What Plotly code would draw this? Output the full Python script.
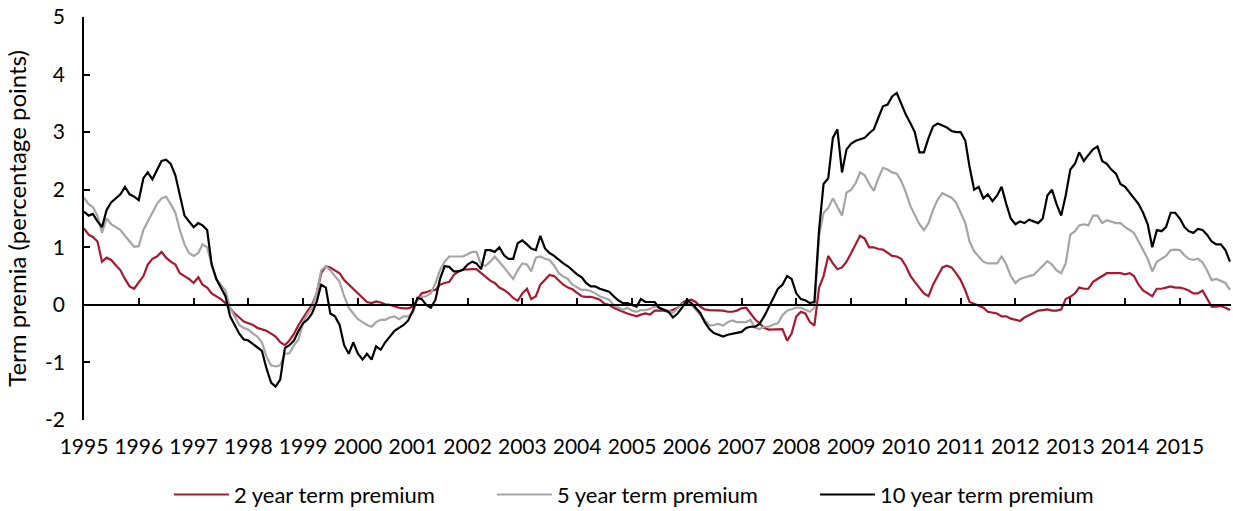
import pandas as pd
import plotly.graph_objects as go

dates = pd.date_range("1995-01-01", periods=252, freq="MS")

two_year = [
    1.33, 1.22, 1.18, 1.1, 0.75, 0.82, 0.78, 0.68, 0.6, 0.45, 0.32, 0.28,
    0.38, 0.5, 0.7, 0.8, 0.84, 0.92, 0.82, 0.75, 0.7, 0.55, 0.5, 0.45,
    0.38, 0.48, 0.35, 0.3, 0.2, 0.15, 0.1, 0.03, -0.06, -0.15, -0.22, -0.29,
    -0.32, -0.35, -0.4, -0.43, -0.45, -0.5, -0.55, -0.65, -0.7, -0.62, -0.5, -0.35,
    -0.22, -0.1, 0.0, 0.2, 0.55, 0.67, 0.65, 0.6, 0.55, 0.43, 0.35, 0.28,
    0.2, 0.12, 0.05, 0.03, 0.06, 0.04, 0.01, 0.0, -0.03, -0.05, -0.06, -0.06,
    -0.03, 0.1, 0.2, 0.22, 0.25, 0.26, 0.35, 0.38, 0.4, 0.52, 0.58, 0.61,
    0.62, 0.62, 0.62, 0.55, 0.48, 0.42, 0.38, 0.3, 0.26, 0.2, 0.12, 0.07,
    0.2, 0.28, 0.1, 0.15, 0.35, 0.43, 0.52, 0.5, 0.42, 0.35, 0.3, 0.27,
    0.21, 0.15, 0.14, 0.14, 0.12, 0.09, 0.02, 0.0, -0.05, -0.09, -0.12, -0.15,
    -0.17, -0.2, -0.17, -0.15, -0.17, -0.1, -0.1, -0.1, -0.12, -0.08, -0.05, 0.03,
    0.08, 0.09, 0.05, -0.03, -0.08, -0.09, -0.09, -0.09, -0.1, -0.12, -0.12, -0.1,
    -0.06, -0.05, -0.15, -0.25, -0.32, -0.4, -0.43, -0.43, -0.43, -0.42, -0.62, -0.5,
    -0.2, -0.12, -0.15, -0.3, -0.36, 0.3, 0.5, 0.85, 0.72, 0.62, 0.65, 0.75,
    0.9, 1.05, 1.2, 1.15, 1.0, 1.0, 0.97, 0.96, 0.9, 0.85, 0.84, 0.8,
    0.67, 0.5, 0.4, 0.3, 0.2, 0.15, 0.35, 0.5, 0.65, 0.68, 0.65, 0.55,
    0.43, 0.25, 0.05, 0.02, -0.02, -0.05, -0.12, -0.14, -0.15, -0.2, -0.2, -0.24,
    -0.26, -0.28, -0.22, -0.18, -0.14, -0.1, -0.09, -0.08, -0.1, -0.1, -0.08, 0.1,
    0.14, 0.2, 0.3, 0.28, 0.28, 0.4, 0.45, 0.5, 0.55, 0.55, 0.55, 0.55,
    0.53, 0.55, 0.5, 0.35, 0.25, 0.2, 0.15, 0.28, 0.28, 0.3, 0.32, 0.3,
    0.3, 0.28, 0.25, 0.2, 0.2, 0.25, 0.1, -0.03, -0.03, -0.02, -0.05, -0.09,
]

five_year = [
    1.86, 1.75, 1.7, 1.55, 1.25, 1.5, 1.4, 1.35, 1.3, 1.2, 1.1, 1.01,
    1.02, 1.3, 1.45, 1.6, 1.75, 1.85, 1.88, 1.75, 1.6, 1.3, 1.05, 0.9,
    0.85, 0.9, 1.05, 1.0, 0.7, 0.45, 0.35, 0.25, -0.05, -0.2, -0.35, -0.4,
    -0.43, -0.5, -0.55, -0.65, -0.9, -1.05, -1.07, -1.05, -0.85, -0.84, -0.7, -0.6,
    -0.3, -0.15, -0.05, 0.2, 0.6, 0.67, 0.6, 0.5, 0.4, 0.15, -0.05, -0.15,
    -0.25, -0.3, -0.35, -0.38, -0.3, -0.26, -0.26, -0.22, -0.2, -0.25, -0.2, -0.2,
    -0.14, 0.1, 0.14, 0.15, 0.2, 0.38, 0.6, 0.75, 0.84, 0.84, 0.84, 0.84,
    0.88, 0.92, 0.92, 0.7, 0.68, 0.75, 0.84, 0.75, 0.65, 0.55, 0.45, 0.6,
    0.72, 0.7, 0.58, 0.82, 0.84, 0.8, 0.78, 0.68, 0.55, 0.49, 0.45, 0.35,
    0.3, 0.26, 0.26, 0.24, 0.2, 0.15, 0.12, 0.09, 0.0, -0.05, -0.09, -0.05,
    -0.1, -0.12, -0.09, -0.09, -0.07, -0.03, -0.05, -0.09, -0.1, -0.14, -0.05, 0.02,
    0.03, 0.0, -0.08, -0.18, -0.26, -0.36, -0.35, -0.33, -0.36, -0.3, -0.27, -0.3,
    -0.3, -0.3, -0.26, -0.4, -0.42, -0.38, -0.38, -0.34, -0.32, -0.18, -0.1, -0.08,
    -0.05, -0.05, -0.08, -0.12, -0.05, 1.2, 1.6, 1.68, 1.85, 1.7, 1.55, 1.95,
    2.0, 2.12, 2.3, 2.25, 2.1, 1.98, 2.2, 2.38, 2.35, 2.3, 2.28, 2.15,
    1.95, 1.71, 1.55, 1.4, 1.3, 1.42, 1.65, 1.83, 1.94, 1.9, 1.86, 1.78,
    1.6, 1.42, 1.1, 0.93, 0.84, 0.75, 0.72, 0.72, 0.72, 0.84, 0.7, 0.5,
    0.38, 0.45, 0.48, 0.5, 0.52, 0.6, 0.67, 0.76, 0.7, 0.6, 0.55, 0.72,
    1.22, 1.28, 1.38, 1.4, 1.38, 1.55, 1.55, 1.42, 1.47, 1.45, 1.42, 1.42,
    1.35, 1.3, 1.25, 1.1, 0.95, 0.8, 0.58, 0.75, 0.8, 0.85, 0.95, 0.96,
    0.95, 0.86, 0.8, 0.78, 0.8, 0.74, 0.6, 0.43, 0.45, 0.42, 0.38, 0.26,
]

ten_year = [
    1.62, 1.55, 1.58, 1.45, 1.35, 1.65, 1.78, 1.85, 1.92, 2.05, 1.92, 1.88,
    1.82, 2.2, 2.3, 2.18, 2.35, 2.5, 2.52, 2.45, 2.25, 1.9, 1.55, 1.45,
    1.35, 1.42, 1.38, 1.3, 0.7, 0.45, 0.3, 0.15, -0.2, -0.35, -0.5, -0.6,
    -0.62, -0.68, -0.73, -0.8, -1.1, -1.35, -1.42, -1.3, -0.75, -0.7, -0.62, -0.45,
    -0.32, -0.25, -0.15, 0.05, 0.35, 0.3, -0.15, -0.2, -0.35, -0.7, -0.85, -0.65,
    -0.85, -0.95, -0.85, -0.95, -0.72, -0.78, -0.65, -0.55, -0.45, -0.4, -0.35, -0.27,
    -0.1, 0.12, 0.1, 0.0, -0.05, 0.09, 0.45, 0.67, 0.66, 0.58, 0.58, 0.61,
    0.7, 0.75, 0.72, 0.62, 0.95, 0.95, 0.92, 1.0, 0.86, 0.8, 0.8, 1.07,
    1.12, 1.05, 0.98, 0.95, 1.2, 0.98, 0.9, 0.85, 0.78, 0.72, 0.67, 0.6,
    0.53, 0.48, 0.38, 0.32, 0.32, 0.28, 0.25, 0.23, 0.15, 0.08, 0.03, 0.03,
    0.0, -0.03, 0.1, 0.05, 0.05, 0.05, -0.05, -0.08, -0.12, -0.22, -0.15, -0.05,
    0.08, 0.03, -0.05, -0.14, -0.3, -0.42, -0.49, -0.52, -0.55, -0.52, -0.5, -0.48,
    -0.47, -0.4, -0.38, -0.38, -0.33, -0.2, -0.05, 0.1, 0.28, 0.35, 0.5, 0.45,
    0.2, 0.1, 0.08, 0.03, 0.05, 1.3, 2.1, 2.2, 2.9, 3.05, 2.3, 2.7,
    2.8, 2.85, 2.87, 2.9, 2.98, 3.05, 3.25, 3.45, 3.48, 3.62, 3.68, 3.5,
    3.3, 3.15, 3.0, 2.65, 2.65, 2.9, 3.1, 3.15, 3.12, 3.08, 3.02, 3.0,
    3.0, 2.85, 2.4, 2.0, 2.05, 1.85, 1.92, 1.8, 1.9, 2.05, 1.75, 1.5,
    1.4, 1.45, 1.42, 1.48, 1.45, 1.42, 1.5, 1.9, 2.0, 1.75, 1.55, 1.9,
    2.35, 2.45, 2.65, 2.5, 2.6, 2.7, 2.75, 2.5, 2.45, 2.35, 2.28, 2.1,
    2.05, 1.95, 1.85, 1.75, 1.6, 1.4, 1.0, 1.3, 1.28, 1.35, 1.6, 1.6,
    1.5, 1.35, 1.28, 1.25, 1.32, 1.3, 1.22, 1.1, 1.05, 1.05, 0.95, 0.75,
]

year_labels = [str(y) for y in range(1995, 2016)]
year_ticks = [f"{y}-01-01" for y in range(1995, 2016)]
y_ticks = [-2, -1, 0, 1, 2, 3, 4, 5]
y_tick_text = ["-2", "-1", "0", "1", "2", "3", "4", "5"]

series_names = ["2 year term premium", "5 year term premium", "10 year term premium"]
series_colors = ["#A6192E", "#A5A5A5", "#000000"]

FONT = "Lato, 'Open Sans', sans-serif"

fig = go.Figure()
for name, vals, col in zip(series_names, [two_year, five_year, ten_year], series_colors):
    fig.add_trace(go.Scatter(x=dates, y=vals, mode="lines", name=name,
                             line=dict(color=col, width=2.2)))

# helper trace so the zero-line axis is rendered
fig.add_trace(go.Scatter(x=[dates[0]], y=[None], xaxis="x2", showlegend=False,
                         hoverinfo="skip", mode="lines"))

x_range = ["1995-01-01", "2015-12-08"]

fig.update_layout(
    width=1233, height=511,
    margin=dict(l=84, r=2, t=17, b=91),
    paper_bgcolor="white", plot_bgcolor="white",
    font=dict(family=FONT, size=21, color="#000000"),
    showlegend=True,
    legend=dict(orientation="h", xref="container", yref="container",
                x=0.137, xanchor="left", y=0.073, yanchor="top",
                font=dict(family=FONT, size=22, color="#000000"),
                entrywidth=253, entrywidthmode="pixels", itemwidth=55,
                tracegroupgap=0),
    xaxis=dict(type="date", range=x_range, tickvals=year_ticks, ticktext=year_labels,
               tickangle=0, showline=False, ticks="", showgrid=False, zeroline=False,
               ticklabelstandoff=12, tickfont=dict(size=21), automargin=False),
    xaxis2=dict(type="date", range=x_range, overlaying="x", matches="x",
                anchor="free", position=2 / 7, side="bottom",
                tickvals=year_ticks, showticklabels=False, showline=True,
                linecolor="#000000", linewidth=1.5, ticks="inside", ticklen=6,
                tickwidth=1.5, tickcolor="#000000", showgrid=False, zeroline=False,
                automargin=False),
    yaxis=dict(range=[-2, 5], tickvals=y_ticks, ticktext=y_tick_text, showline=True,
               linecolor="#000000", linewidth=1.5, ticks="inside", ticklen=6,
               tickwidth=1.5, tickcolor="#000000", showgrid=False, zeroline=False,
               ticklabelstandoff=13, tickfont=dict(size=21), automargin=False,
               title=dict(text="Term premia (percentage points)",
                          font=dict(size=24), standoff=12)),
)

fig.write_html("out.html", config={"displayModeBar": False},
               post_script="document.body.style.margin='0';")
